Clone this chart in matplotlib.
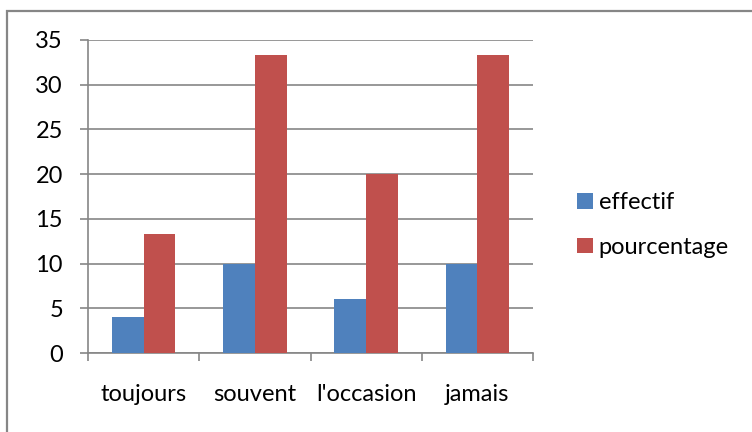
import numpy as np
import matplotlib
matplotlib.use("Agg")
import matplotlib.pyplot as plt
from matplotlib.patches import Rectangle

categories = ["toujours", "souvent", "l'occasion", "jamais"]
effectif = [4, 10, 6, 10]
pourcentage = [13.33, 33.33, 20, 33.33]
yticks = [0, 5, 10, 15, 20, 25, 30, 35]

plt.rcParams['font.family'] = ['Lato', 'DejaVu Sans']
W, H = 752, 432
fig = plt.figure(figsize=(W / 100, H / 100), dpi=100)
fig.patch.set_facecolor('white')

# chart frame (only top and left edges fall inside the image)
fig.patches.append(Rectangle((7 / W, -0.1), 2.0, (H - 11) / H + 0.1,
                             transform=fig.transFigure, fill=False,
                             edgecolor='#868686', linewidth=1.6))

ax = fig.add_axes([88 / W, (H - 353) / H, 445 / W, 313 / H])
grid_col = '#868686'
fs = 17

x = np.arange(len(categories))
w = 0.2857
ax.bar(x - w / 2, effectif, w, color='#4F81BD', label='effectif', zorder=3)
ax.bar(x + w / 2, pourcentage, w, color='#C0504D', label='pourcentage', zorder=3)

ax.set_xlim(-0.5, len(categories) - 0.5)
ax.set_ylim(0, 35)
ax.set_yticks(yticks)
ax.yaxis.grid(True, color=grid_col, linewidth=1.2, zorder=0)
ax.set_axisbelow(True)

ax.set_xticks(x)
ax.set_xticklabels(categories, fontsize=fs)
ax.set_xticks(np.arange(len(categories) + 1) - 0.5, minor=True)
ax.tick_params(axis='x', which='major', length=0, pad=22)
ax.tick_params(axis='x', which='minor', length=5.5, width=1.2, color=grid_col)
ax.tick_params(axis='y', length=6, width=1.2, color=grid_col, pad=12, labelsize=fs)

for s in ['top', 'right']:
    ax.spines[s].set_visible(False)
for s in ['left', 'bottom']:
    ax.spines[s].set_color(grid_col)
    ax.spines[s].set_linewidth(1.2)

fig.legend(loc='center left', bbox_to_anchor=(568 / W, (H - 225) / H),
           frameon=False, fontsize=fs, handlelength=0.65, handleheight=0.65,
           handletextpad=0.25, labelspacing=1.0, borderaxespad=0)

fig.savefig('out.png', dpi=100, facecolor='white')
